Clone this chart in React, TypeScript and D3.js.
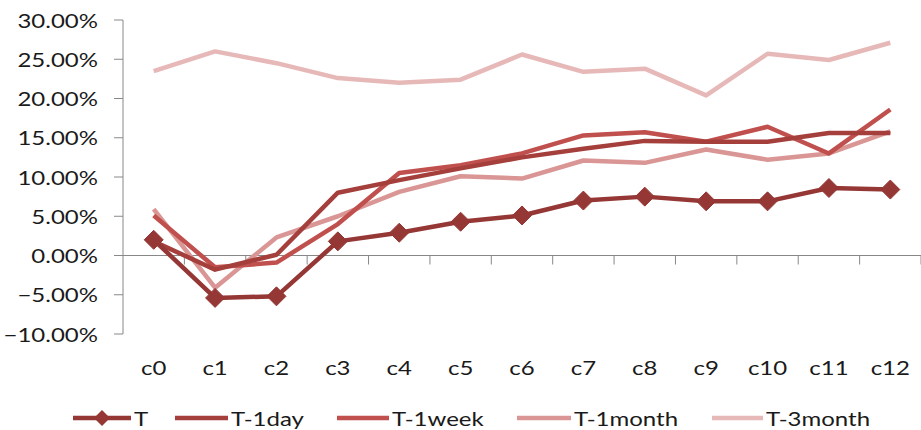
import React from "react";
import * as d3 from "d3";

const categories = ["c0", "c1", "c2", "c3", "c4", "c5", "c6", "c7", "c8", "c9", "c10", "c11", "c12"];
const seriesNames = ["T", "T-1day", "T-1week", "T-1month", "T-3month"];
const seriesT = [2.0, -5.4, -5.2, 1.8, 2.9, 4.3, 5.1, 7.0, 7.5, 6.9, 6.9, 8.6, 8.4];
const seriesT1day = [1.8, -1.8, 0.1, 8.0, 9.6, 11.1, 12.5, 13.6, 14.6, 14.5, 14.5, 15.6, 15.6];
const seriesT1week = [5.1, -1.5, -0.9, 4.0, 10.5, 11.5, 13.0, 15.3, 15.7, 14.5, 16.4, 13.0, 18.6];
const seriesT1month = [5.9, -4.1, 2.3, 5.0, 8.1, 10.1, 9.8, 12.1, 11.8, 13.5, 12.2, 13.0, 15.8];
const seriesT3month = [23.5, 26.0, 24.5, 22.6, 22.0, 22.4, 25.6, 23.4, 23.8, 20.4, 25.7, 24.9, 27.1];
const yTicks = [-10, -5, 0, 5, 10, 15, 20, 25, 30];

const colors = ["#953735", "#a43f3c", "#c0504d", "#d99694", "#e6b9b8"];
const allSeries = [seriesT, seriesT1day, seriesT1week, seriesT1month, seriesT3month];

const FONT = "Lato, 'Open Sans', sans-serif";
const SX = 1.2;

function Label(props: { x: number; y: number; anchor?: string; children: React.ReactNode }) {
  return (
    <text
      transform={`translate(${props.x},${props.y}) scale(${SX},1)`}
      textAnchor={props.anchor || "start"}
      dominantBaseline="central"
      fontFamily={FONT}
      fontSize={20}
      fill="#1a1a1a"
    >
      {props.children}
    </text>
  );
}

export default function App() {
  const W = 921, H = 430;
  const left = 123, right = 921, top = 20, bottom = 334;
  const x = d3.scaleBand<string>().domain(categories).range([left, right]);
  const y = d3.scaleLinear().domain([-10, 30]).range([bottom, top]);
  const cx = (c: string) => (x(c) as number) + x.bandwidth() / 2;
  const line = d3.line<number>().x((_, i) => cx(categories[i])).y((v) => y(v));
  const diamond = (px: number, py: number, r: number) =>
    `M${px},${py - r}L${px + r},${py}L${px},${py + r}L${px - r},${py}Z`;

  const legendItems = [
    { lx: 73, tx: 134 },
    { lx: 175, tx: 231 },
    { lx: 337, tx: 392 },
    { lx: 517, tx: 574 },
    { lx: 712, tx: 766 },
  ];
  const legendY = 418;

  return (
    <svg width={W} height={H} style={{ position: "absolute", left: 0, top: 0, background: "#fff" }}>
      <line x1={left} x2={left} y1={top} y2={bottom} stroke="#888" strokeWidth={1} />
      {yTicks.map((t) => (
        <g key={t}>
          <line x1={left - 9} x2={left} y1={y(t)} y2={y(t)} stroke="#888" strokeWidth={1} />
          <Label x={98} y={y(t)} anchor="end">
            {d3.format(".2f")(t) + "%"}
          </Label>
        </g>
      ))}
      <line x1={left} x2={right} y1={y(0)} y2={y(0)} stroke="#888" strokeWidth={1} />
      {categories.map((c) => (
        <line
          key={"xt" + c}
          x1={(x(c) as number) + x.bandwidth()}
          x2={(x(c) as number) + x.bandwidth()}
          y1={y(0)}
          y2={y(0) + 9}
          stroke="#888"
          strokeWidth={1}
        />
      ))}
      {categories.map((c) => (
        <Label key={"xl" + c} x={cx(c)} y={367} anchor="middle">
          {c}
        </Label>
      ))}
      {allSeries
        .map((s, i) => ({ s, i }))
        .reverse()
        .map(({ s, i }) => (
          <path
            key={"l" + i}
            d={line(s) as string}
            fill="none"
            stroke={colors[i]}
            strokeWidth={4.5}
            strokeLinejoin="round"
          />
        ))}
      {seriesT.map((v, i) => (
        <path key={"m" + i} d={diamond(cx(categories[i]), y(v), 9.5)} fill={colors[0]} stroke={colors[0]} strokeWidth={1} />
      ))}
      {legendItems.map((it, i) => (
        <g key={"lg" + i}>
          <line x1={it.lx} x2={it.tx - 3} y1={legendY} y2={legendY} stroke={colors[i]} strokeWidth={4.5} />
          {i === 0 && <path d={diamond((it.lx + it.tx - 3) / 2, legendY, 8)} fill={colors[0]} />}
          <Label x={it.tx} y={legendY}>
            {seriesNames[i]}
          </Label>
        </g>
      ))}
    </svg>
  );
}
